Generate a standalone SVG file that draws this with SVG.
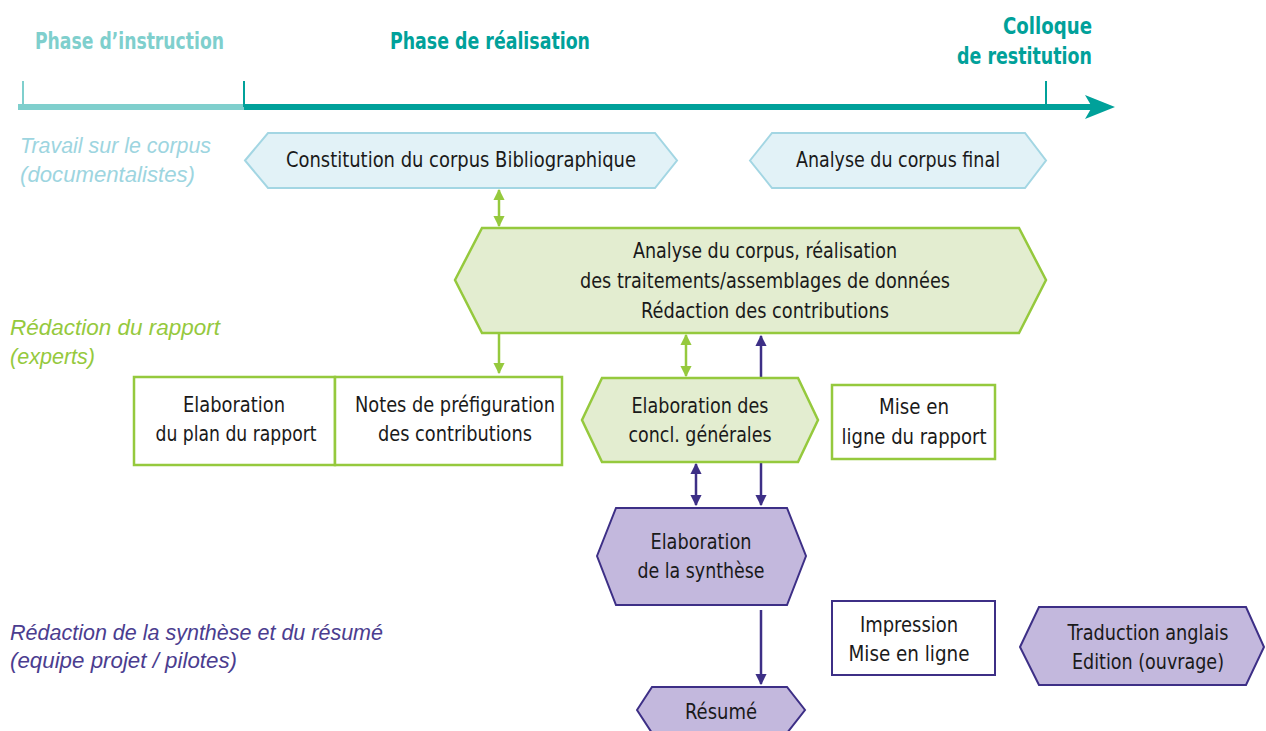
<svg xmlns="http://www.w3.org/2000/svg" width="1266" height="731" viewBox="0 0 1266 731">
<style>
.t{font-family:"DejaVu Sans Condensed","Liberation Sans",sans-serif;font-size:22px;fill:#1a1a1a;text-anchor:middle}
.h{font-family:"DejaVu Sans Condensed","Liberation Sans",sans-serif;font-size:23px;font-weight:bold}
.lab{font-family:"Liberation Sans","Open Sans",sans-serif;font-size:22px;font-style:italic}
.blue{fill:#e2f2f7;stroke:#a3d6e3;stroke-width:2}
.green{fill:#e3edd0;stroke:#95c93d;stroke-width:2.5}
.greenbox{fill:#fff;stroke:#95c93d;stroke-width:2.5}
.purple{fill:#c3b8dd;stroke:#3d2f86;stroke-width:2}
.gl{stroke:#95c93d;stroke-width:2.5;fill:none}
.pl{stroke:#3d2f86;stroke-width:2.5;fill:none}
</style>
<defs>
<marker id="ga" viewBox="0 0 10 10" refX="9" refY="5" markerWidth="4.5" markerHeight="4.5" orient="auto-start-reverse" markerUnits="strokeWidth"><path d="M0,0 L10,5 L0,10 z" fill="#95c93d"/></marker>
<marker id="pa" viewBox="0 0 10 10" refX="9" refY="5" markerWidth="4.5" markerHeight="4.5" orient="auto-start-reverse" markerUnits="strokeWidth"><path d="M0,0 L10,5 L0,10 z" fill="#3d2f86"/></marker>
</defs>
<rect width="1266" height="731" fill="#fff"/>

<g id="timeline">
<line x1="18" y1="107" x2="244" y2="107" stroke="#7fcfcd" stroke-width="6"/>
<line x1="244" y1="107" x2="1092" y2="107" stroke="#00a19a" stroke-width="6"/>
<polygon points="1085,95 1115,107 1085,119 1092,107" fill="#00a19a"/>
<line x1="23" y1="81" x2="23" y2="107" stroke="#7fcfcd" stroke-width="2"/>
<line x1="244" y1="81" x2="244" y2="107" stroke="#00a19a" stroke-width="2"/>
<line x1="1046" y1="81" x2="1046" y2="107" stroke="#00a19a" stroke-width="2"/>
<text class="h" x="35" y="49" fill="#7fcfcd" textLength="189" lengthAdjust="spacingAndGlyphs">Phase d’instruction</text>
<text class="h" x="390" y="49" fill="#00a19a" textLength="200" lengthAdjust="spacingAndGlyphs">Phase de réalisation</text>
<text class="h" x="1003" y="34" fill="#00a19a" textLength="89" lengthAdjust="spacingAndGlyphs">Colloque</text>
<text class="h" x="957" y="64" fill="#00a19a" textLength="135" lengthAdjust="spacingAndGlyphs">de restitution</text>
</g>

<g id="lane-labels">
<text class="lab" x="20" y="153" fill="#9dd5e0" textLength="191" lengthAdjust="spacingAndGlyphs">Travail sur le corpus</text>
<text class="lab" x="20" y="182" fill="#9dd5e0" textLength="175" lengthAdjust="spacingAndGlyphs">(documentalistes)</text>
<text class="lab" x="10" y="335" fill="#95c93d" textLength="210" lengthAdjust="spacingAndGlyphs">Rédaction du rapport</text>
<text class="lab" x="10" y="364" fill="#95c93d" textLength="85" lengthAdjust="spacingAndGlyphs">(experts)</text>
<text class="lab" x="10" y="640" fill="#4b3d8f" textLength="373" lengthAdjust="spacingAndGlyphs">Rédaction de la synthèse et du résumé</text>
<text class="lab" x="10" y="668" fill="#4b3d8f" textLength="227" lengthAdjust="spacingAndGlyphs">(equipe projet / pilotes)</text>
</g>

<g id="connectors">
<line class="gl" x1="499" y1="190" x2="499" y2="226" marker-start="url(#ga)" marker-end="url(#ga)"/>
<line class="gl" x1="499" y1="334" x2="499" y2="373" marker-end="url(#ga)"/>
<line class="gl" x1="686" y1="335" x2="686" y2="376" marker-start="url(#ga)" marker-end="url(#ga)"/>
<line class="pl" x1="761" y1="336" x2="761" y2="505" marker-start="url(#pa)" marker-end="url(#pa)"/>
<line class="pl" x1="696" y1="464" x2="696" y2="505" marker-start="url(#pa)" marker-end="url(#pa)"/>
<line class="pl" x1="761" y1="610" x2="761" y2="684" marker-end="url(#pa)"/>
</g>

<g id="n-constitution">
<polygon class="blue" points="245,160.5 268,133 655,133 677,160.5 655,188 268,188"/>
<text class="t" x="461" y="167" textLength="350" lengthAdjust="spacingAndGlyphs">Constitution du corpus Bibliographique</text>
</g>
<g id="n-analyse-final">
<polygon class="blue" points="750,160.5 772,133 1025,133 1046,160.5 1025,188 772,188"/>
<text class="t" x="898" y="167" textLength="204" lengthAdjust="spacingAndGlyphs">Analyse du corpus final</text>
</g>
<g id="n-analyse">
<polygon class="green" points="455,280 482,228 1019,228 1046,280 1019,333 482,333"/>
<text class="t" x="765" y="258" textLength="264" lengthAdjust="spacingAndGlyphs">Analyse du corpus, réalisation</text>
<text class="t" x="765" y="288" textLength="370" lengthAdjust="spacingAndGlyphs">des traitements/assemblages de données</text>
<text class="t" x="765" y="318" textLength="248" lengthAdjust="spacingAndGlyphs">Rédaction des contributions</text>
</g>
<g id="n-plan">
<rect class="greenbox" x="134" y="377" width="201" height="88"/>
<text class="t" x="234" y="412" textLength="102" lengthAdjust="spacingAndGlyphs">Elaboration</text>
<text class="t" x="236" y="441" textLength="161" lengthAdjust="spacingAndGlyphs">du plan du rapport</text>
</g>
<g id="n-notes">
<rect class="greenbox" x="335" y="377" width="227" height="88"/>
<text class="t" x="455" y="412" textLength="200" lengthAdjust="spacingAndGlyphs">Notes de préfiguration</text>
<text class="t" x="455" y="441" textLength="154" lengthAdjust="spacingAndGlyphs">des contributions</text>
</g>
<g id="n-concl">
<polygon class="green" points="582,420 602,378 798,378 818,420 798,462 602,462"/>
<text class="t" x="700" y="413" textLength="137" lengthAdjust="spacingAndGlyphs">Elaboration des</text>
<text class="t" x="700" y="442" textLength="143" lengthAdjust="spacingAndGlyphs">concl. générales</text>
</g>
<g id="n-mise-rapport">
<rect class="greenbox" x="832" y="385" width="163" height="74"/>
<text class="t" x="914" y="414" textLength="70" lengthAdjust="spacingAndGlyphs">Mise en</text>
<text class="t" x="914" y="444" textLength="145" lengthAdjust="spacingAndGlyphs">ligne du rapport</text>
</g>
<g id="n-synthese">
<polygon class="purple" points="597,556 616,508 787,508 806,556 787,605 616,605"/>
<text class="t" x="701" y="549" textLength="101" lengthAdjust="spacingAndGlyphs">Elaboration</text>
<text class="t" x="701" y="578" textLength="127" lengthAdjust="spacingAndGlyphs">de la synthèse</text>
</g>
<g id="n-impression">
<rect x="832" y="601" width="163" height="74" fill="#fff" stroke="#3d2f86" stroke-width="2"/>
<text class="t" x="909" y="632" textLength="98" lengthAdjust="spacingAndGlyphs">Impression</text>
<text class="t" x="909" y="661" textLength="121" lengthAdjust="spacingAndGlyphs">Mise en ligne</text>
</g>
<g id="n-traduction">
<polygon class="purple" points="1020,647 1039,607 1246,607 1264,647 1246,685 1039,685"/>
<text class="t" x="1148" y="640" textLength="161" lengthAdjust="spacingAndGlyphs">Traduction anglais</text>
<text class="t" x="1148" y="669" textLength="152" lengthAdjust="spacingAndGlyphs">Edition (ouvrage)</text>
</g>
<g id="n-resume">
<polygon class="purple" points="637,710 652,687 787,687 805,710 787,733 652,733"/>
<text class="t" x="721" y="719" textLength="72" lengthAdjust="spacingAndGlyphs">Résumé</text>
</g>
</svg>
